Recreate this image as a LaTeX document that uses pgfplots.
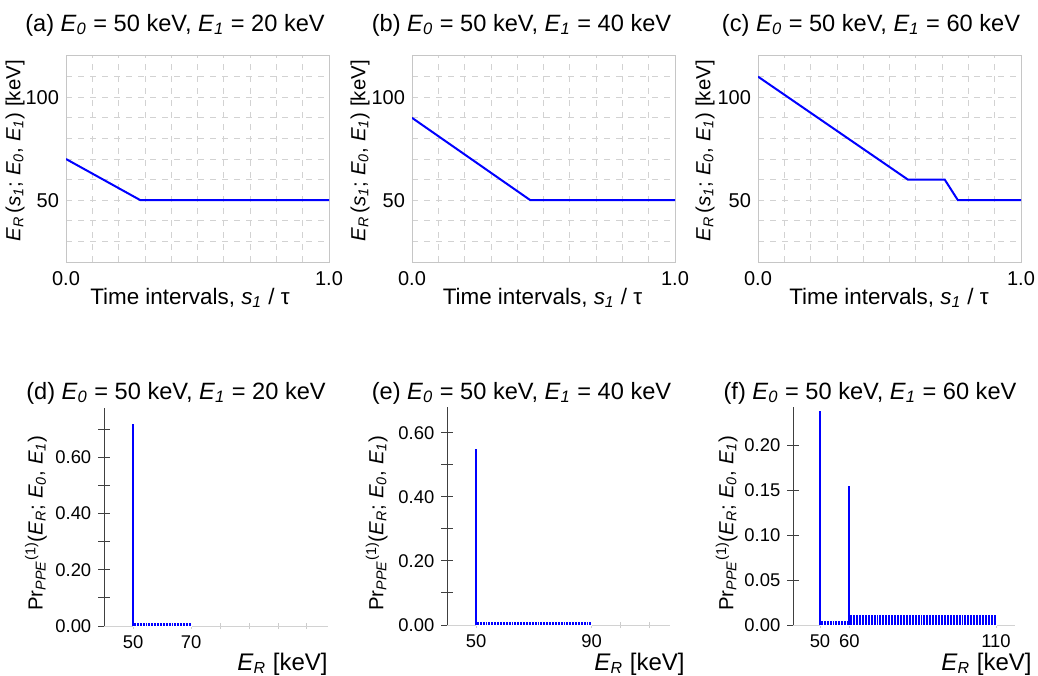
\documentclass[border=0pt]{standalone}
\usepackage{fontspec}
\setmainfont{Liberation Sans}
\usepackage{pgfplots}
\pgfplotsset{compat=1.18}

\newcommand{\tsz}{\fontsize{11.8}{14}\selectfont}
\newcommand{\lsz}{\fontsize{11.2}{13}\selectfont}
\newcommand{\ysz}{\fontsize{10.2}{12}\selectfont}
\newcommand{\isub}[2]{\textit{#1}\textsubscript{\textit{#2}}}
\newcommand{\ttl}[3]{(#1) \isub{E}{0} = #2 keV, \isub{E}{1} = #3 keV}
\newcommand{\eylab}{\isub{E}{R}\,(\isub{s}{1}; \isub{E}{0}, \isub{E}{1}) [keV]}
\newcommand{\prlab}{Pr\textsubscript{\textit{PPE}}\textsuperscript{(1)}(\isub{E}{R}; \isub{E}{0}, \isub{E}{1})}

\pgfplotsset{
  /pgf/number format/assume math mode=true,
  toprow/.style={
    scale only axis, anchor=south west,
    width=131.5pt, height=103.5pt,
    xmin=0, xmax=1, ymin=20, ymax=120.5,
    xtick={0,0.1,0.2,0.3,0.4,0.5,0.6,0.7,0.8,0.9,1},
    xticklabels={0.0,,,,,,,,,,1.0},
    ytick={30,40,50,60,70,80,90,100,110},
    yticklabels={,,50,,,,,100,},
    grid=major,
    grid style={dashed, gray!35, line width=0.4pt},
    axis line style={gray!45},
    major tick length=0pt,
    tick label style={font=\fontsize{10}{12}\selectfont},
    xticklabel style={yshift=-1pt},
  },
  botrow/.style={
    scale only axis, anchor=south west,
    axis x line=bottom, axis y line=left,
    axis line style={-},
    x axis line style={gray!35},
    y axis line style={black!75},
    tick align=center,
    major tick length=6pt, minor tick length=6pt,
    ytick style={black!75, line width=0.5pt},
    xtick style={gray!40, /pgfplots/major tick length=3pt},
    tick label style={font=\fontsize{9.2}{11}\selectfont},
    xticklabel style={yshift=1.5pt},
    ymin=0, clip=false,
  },
}

\begin{document}
\begin{tikzpicture}
\path[use as bounding box] (0pt,0pt) rectangle (519pt,337.5pt);

% ---------- top row ----------
\begin{axis}[toprow, at={(33pt,206.5pt)}]
\addplot[blue, line width=1pt] coordinates {(0,70) (0.283,50) (1,50)};
\end{axis}
\begin{axis}[toprow, at={(206pt,206.5pt)}]
\addplot[blue, line width=1pt] coordinates {(0,90) (0.45,50) (1,50)};
\end{axis}
\begin{axis}[toprow, at={(379pt,206.5pt)}]
\addplot[blue, line width=1pt] coordinates {(0,110) (0.57,60) (0.71,60) (0.76,50) (1,50)};
\end{axis}

\node[font=\tsz] at (87.5pt,325pt) {\ttl{a}{50}{20}};
\node[font=\tsz] at (260.75pt,325pt) {\ttl{b}{50}{40}};
\node[font=\tsz] at (435.5pt,325pt) {\ttl{c}{50}{60}};

\foreach \xx in {7.5pt,180pt,352.5pt}
  \node[font=\ysz, rotate=90] at (\xx,262pt) {\eylab};
\node[font=\lsz] at (95pt,188.5pt) {Time intervals, \isub{s}{1} / τ};
\node[font=\lsz] at (271.25pt,188.5pt) {Time intervals, \isub{s}{1} / τ};
\node[font=\lsz] at (444.5pt,188.5pt) {Time intervals, \isub{s}{1} / τ};

% ---------- bottom row ----------
\begin{axis}[botrow, at={(52.15pt,24.5pt)}, width=112pt, height=109pt,
  xmin=40, xmax=117.5, ymax=0.775,
  xtick={50,70,80,90,100,110}, xticklabels={50,70,,,,},
  ytick={0,0.2,0.4,0.6}, yticklabels={0.00,0.20,0.40,0.60},
  minor ytick={0.1,0.3,0.5,0.7}]
\addplot[ybar interval, fill=blue, draw=white, line width=0.2pt] coordinates {
  (50,0.014) (51,0.014) (52,0.014) (53,0.014) (54,0.014) (55,0.014) (56,0.014)
  (57,0.014) (58,0.014) (59,0.014) (60,0.014) (61,0.014) (62,0.014) (63,0.014)
  (64,0.014) (65,0.014) (66,0.014) (67,0.014) (68,0.014) (69,0.014) (70,0.014)};
\addplot[ycomb, blue, line width=1pt] coordinates {(50,0.717)};
\end{axis}

\begin{axis}[botrow, at={(223.65pt,25pt)}, width=111.35pt, height=108.85pt,
  xmin=40, xmax=117.2, ymax=0.68,
  xtick={50,90,100,110}, xticklabels={50,90,,},
  ytick={0,0.2,0.4,0.6}, yticklabels={0.00,0.20,0.40,0.60},
  minor ytick={0.1,0.3,0.5}]
\addplot[ybar interval, fill=blue, draw=white, line width=0.2pt] coordinates {
  (50,0.012) (51,0.012) (52,0.012) (53,0.012) (54,0.012) (55,0.012) (56,0.012)
  (57,0.012) (58,0.012) (59,0.012) (60,0.012) (61,0.012) (62,0.012) (63,0.012)
  (64,0.012) (65,0.012) (66,0.012) (67,0.012) (68,0.012) (69,0.012) (70,0.012)
  (71,0.012) (72,0.012) (73,0.012) (74,0.012) (75,0.012) (76,0.012) (77,0.012)
  (78,0.012) (79,0.012) (80,0.012) (81,0.012) (82,0.012) (83,0.012) (84,0.012)
  (85,0.012) (86,0.012) (87,0.012) (88,0.012) (89,0.012) (90,0.012)};
\addplot[ycomb, blue, line width=1pt] coordinates {(50,0.551)};
\end{axis}

\begin{axis}[botrow, at={(396.65pt,25pt)}, width=110.85pt, height=108.85pt,
  xmin=40.9, xmax=116.5, ymax=0.242,
  xtick={50,60,110}, xticklabels={50,60,110},
  ytick={0,0.05,0.1,0.15,0.2}, yticklabels={0.00,0.05,0.10,0.15,0.20}]
\addplot[ybar interval, fill=blue, draw=white, line width=0.2pt] coordinates {
  (50,0.0048) (51,0.0048) (52,0.0048) (53,0.0048) (54,0.0048) (55,0.0048)
  (56,0.0048) (57,0.0048) (58,0.0048) (59,0.0048)
  (60,0.0118) (61,0.0118) (62,0.0118) (63,0.0118) (64,0.0118) (65,0.0118)
  (66,0.0118) (67,0.0118) (68,0.0118) (69,0.0118) (70,0.0118) (71,0.0118)
  (72,0.0118) (73,0.0118) (74,0.0118) (75,0.0118) (76,0.0118) (77,0.0118)
  (78,0.0118) (79,0.0118) (80,0.0118) (81,0.0118) (82,0.0118) (83,0.0118)
  (84,0.0118) (85,0.0118) (86,0.0118) (87,0.0118) (88,0.0118) (89,0.0118)
  (90,0.0118) (91,0.0118) (92,0.0118) (93,0.0118) (94,0.0118) (95,0.0118)
  (96,0.0118) (97,0.0118) (98,0.0118) (99,0.0118) (100,0.0118) (101,0.0118)
  (102,0.0118) (103,0.0118) (104,0.0118) (105,0.0118) (106,0.0118) (107,0.0118)
  (108,0.0118) (109,0.0118) (110,0.0118)};
\addplot[ycomb, blue, line width=1pt] coordinates {(50,0.238) (60,0.155)};
\end{axis}

\node[font=\tsz] at (88pt,141pt) {\ttl{d}{50}{20}};
\node[font=\tsz] at (260.75pt,141pt) {\ttl{e}{50}{40}};
\node[font=\tsz] at (435pt,141pt) {\ttl{f}{50}{60}};

\node[font=\ysz, rotate=90] at (18pt,76pt) {\prlab};
\node[font=\ysz, rotate=90] at (188.3pt,76pt) {\prlab};
\node[font=\ysz, rotate=90] at (363.3pt,76pt) {\prlab};

\node[font=\fontsize{12}{14}\selectfont, anchor=base east, inner sep=0pt] at (164pt,2.5pt) {\isub{E}{R} [keV]};
\node[font=\fontsize{12}{14}\selectfont, anchor=base east, inner sep=0pt] at (342.5pt,2.5pt) {\isub{E}{R} [keV]};
\node[font=\fontsize{12}{14}\selectfont, anchor=base east, inner sep=0pt] at (516pt,2.5pt) {\isub{E}{R} [keV]};
\end{tikzpicture}
\end{document}
